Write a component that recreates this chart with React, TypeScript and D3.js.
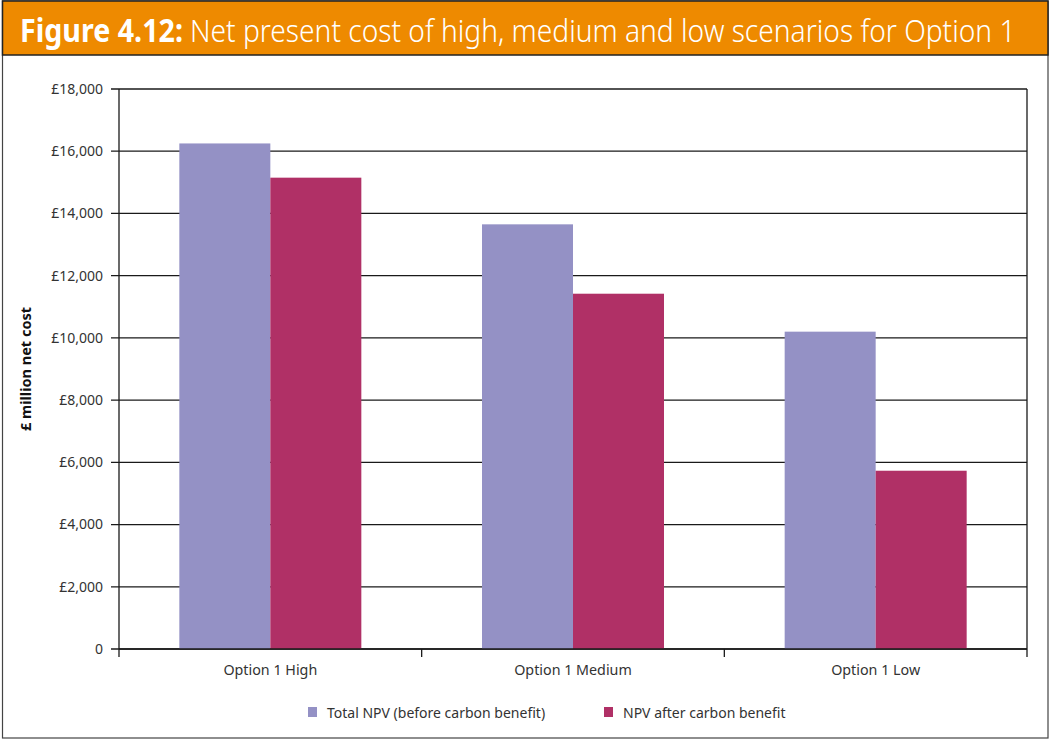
import React, { useLayoutEffect, useRef, useState } from "react";
import * as d3 from "d3";

const categories = ["Option 1 High", "Option 1 Medium", "Option 1 Low"];
const seriesNames = ["Total NPV (before carbon benefit)", "NPV after carbon benefit"];
const totalNPV = [16250, 13650, 10200];
const afterCarbon = [15150, 11420, 5730];
const yTicks = [0, 2000, 4000, 6000, 8000, 10000, 12000, 14000, 16000, 18000];
const colors = ["#9491c5", "#b03066"];
const titleBold = "Figure 4.12:";
const titleRest = "Net present cost of high, medium and low scenarios for Option 1";

const W = 1049;
const H = 740;
const plot = { left: 119, right: 1027, top: 89, bottom: 649 };
const font = "'Noto Sans', 'Open Sans', sans-serif";

function FitText(props: {
  x: number;
  y: number;
  width: number;
  text: string;
  fontSize: number;
  fontWeight: any;
}) {
  const ref = useRef<SVGTextElement>(null);
  const [sx, setSx] = useState(1);
  useLayoutEffect(() => {
    if (ref.current) {
      const w = ref.current.getComputedTextLength();
      if (w > 0) setSx(props.width / w);
    }
  }, [props.text, props.width]);
  return (
    <text
      ref={ref}
      transform={`translate(${props.x},${props.y}) scale(${sx},1)`}
      fill="#fff"
      fontSize={props.fontSize}
      fontWeight={props.fontWeight}
    >
      {props.text}
    </text>
  );
}

export default function App() {
  const x0 = d3
    .scaleBand<string>()
    .domain(categories)
    .range([plot.left, plot.right])
    .paddingInner(0)
    .paddingOuter(0);
  const groupInner = 182;
  const x1 = d3
    .scaleBand<string>()
    .domain(seriesNames)
    .range([0, groupInner]);
  const y = d3.scaleLinear().domain([0, 18000]).range([plot.bottom, plot.top]);
  const fmt = (v: number) => (v === 0 ? "0" : "£" + d3.format(",")(v));
  const series = [totalNPV, afterCarbon];

  return (
    <svg
      width={W}
      height={H}
      style={{ position: "absolute", left: 0, top: 0, background: "#fff" }}
      fontFamily={font}
    >
      {/* outer frame */}
      <rect x={2.5} y={1} width={1045.5} height={737} fill="#fff" stroke="#444" strokeWidth={1.2} />
      {/* title band */}
      <rect x={2.5} y={1} width={1045.5} height={54} fill="#ee8a00" stroke="#222" strokeWidth={1.5} />
      <FitText x={20} y={42} width={163} text={titleBold} fontSize={32} fontWeight="bold" />
      <FitText x={190} y={42} width={826} text={titleRest} fontSize={32} fontWeight={300} />

      {/* gridlines */}
      {yTicks.map((t) => (
        <g key={t}>
          <line
            x1={plot.left - 8}
            x2={plot.right}
            y1={y(t)}
            y2={y(t)}
            stroke="#1a1a1a"
            strokeWidth={1.3}
          />
          <text
            x={plot.left - 16}
            y={y(t)}
            dy="0.35em"
            textAnchor="end"
            fontSize={14}
            fill="#333"
          >
            {fmt(t)}
          </text>
        </g>
      ))}

      {/* bars */}
      {categories.map((c, i) => {
        const gx = (x0(c) as number) + (x0.bandwidth() - groupInner) / 2;
        return (
          <g key={c}>
            {seriesNames.map((s, j) => (
              <rect
                key={s}
                x={gx + (x1(s) as number)}
                y={y(series[j][i])}
                width={x1.bandwidth()}
                height={y(0) - y(series[j][i])}
                fill={colors[j]}
              />
            ))}
          </g>
        );
      })}

      {/* axes */}
      <line x1={plot.left} x2={plot.left} y1={plot.top} y2={plot.bottom + 8} stroke="#1a1a1a" strokeWidth={1.3} />
      <line x1={plot.right} x2={plot.right} y1={plot.top} y2={plot.bottom + 8} stroke="#1a1a1a" strokeWidth={1.3} />
      <line x1={plot.left} x2={plot.right} y1={plot.bottom} y2={plot.bottom} stroke="#1a1a1a" strokeWidth={1.5} />
      {categories.map((c, i) =>
        i > 0 ? (
          <line
            key={c}
            x1={x0(c) as number}
            x2={x0(c) as number}
            y1={plot.bottom}
            y2={plot.bottom + 8}
            stroke="#1a1a1a"
            strokeWidth={1.3}
          />
        ) : null
      )}
      {categories.map((c) => (
        <text
          key={c}
          x={(x0(c) as number) + x0.bandwidth() / 2}
          y={675}
          textAnchor="middle"
          fontSize={14.3}
          fill="#333"
        >
          {c}
        </text>
      ))}

      {/* y axis title */}
      <text
        transform={`translate(31, 369) rotate(-90)`}
        textAnchor="middle"
        fontSize={14.5}
        fontWeight="bold"
        fill="#111"
      >
        £ million net cost
      </text>

      {/* legend */}
      {seriesNames.map((s, j) => {
        const lx = [308, 604][j];
        return (
          <g key={s}>
            <rect x={lx} y={707} width={9} height={10} fill={colors[j]} />
            <text x={lx + 19} y={717.5} fontSize={14} fill="#333">
              {s}
            </text>
          </g>
        );
      })}
    </svg>
  );
}
